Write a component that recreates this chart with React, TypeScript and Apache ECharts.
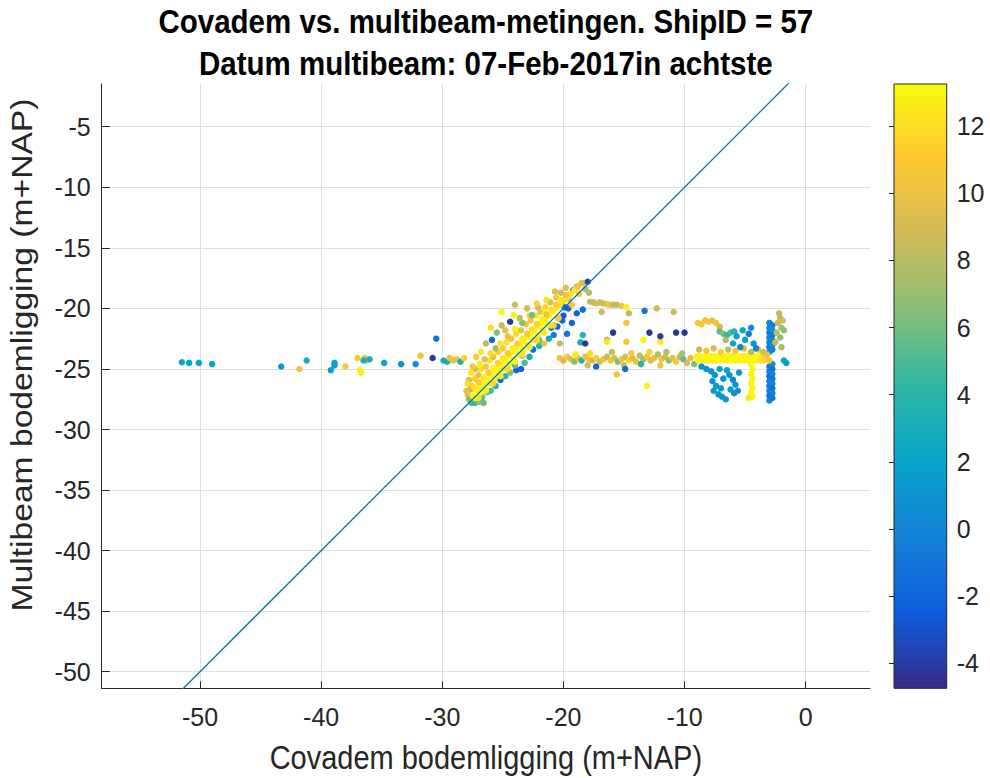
import React, { useEffect, useRef } from "react";
import * as echarts from "echarts";

// [covadem depth, multibeam depth, colour value]
type Pt = [number, number, number];

const titleLines = [
  "Covadem vs. multibeam-metingen. ShipID = 57",
  "Datum multibeam: 07-Feb-2017in achtste",
];
const xAxisTitle = "Covadem bodemligging (m+NAP)";
const yAxisTitle = "Multibeam bodemligging (m+NAP)";

const xTicks = [-50, -40, -30, -20, -10, 0];
const yTicks = [-50, -45, -40, -35, -30, -25, -20, -15, -10, -5];
const colorTicks = [-4, -2, 0, 2, 4, 6, 8, 10, 12];
const xRange = [-58.12, 5.31];
const yRange = [-51.37, -1.47];
const colorRange = [-4.74, 13.25];
const parula = ["#352a87", "#0f5cdd", "#1481d6", "#06a4ca", "#2eb7a4", "#87bf77", "#d1bb59", "#fec832", "#f9fb0e"];

// 1:1 reference line
const identityLine = [[-60, -60], [5, 5]];

const farLeft: Pt[] = [
  [-51.5, -24.45, 2.2], [-50.9, -24.5, 2.0], [-50.1, -24.5, 2.2], [-49.0, -24.6, 2.0],
  [-43.3, -24.8, 1.5], [-41.8, -25.0, 10.2], [-41.2, -24.3, 3.2],
  [-39.2, -25.1, 1.8], [-38.9, -24.7, 1.6], [-38.9, -24.5, 2.0],
  [-38.0, -24.8, 10.8], [-37.0, -24.1, 11.0], [-36.4, -24.1, 10.0], [-36.3, -24.3, 9.2],
  [-36.8, -25.1, 13.0], [-36.7, -25.3, 12.8], [-36.5, -24.3, 3.2], [-36.0, -24.2, 3.0],
  [-34.8, -24.5, 2.4], [-33.4, -24.6, 1.2], [-32.2, -24.6, 1.0], [-31.8, -23.9, 10.3],
  [-30.8, -24.1, -4.2], [-30.5, -22.5, -1.0], [-29.9, -24.3, 3.2], [-29.6, -24.4, 3.0],
  [-29.4, -24.1, 10.2], [-29.1, -24.3, 9.8], [-28.8, -24.2, 10.6], [-28.5, -24.4, 3.4],
  [-28.2, -24.1, 11.4],
];

const diagonalCore: Pt[] = [
  [-27.5, -27.2, 13], [-27.2, -26.8, 13], [-26.9, -26.5, 12.8], [-26.6, -26.2, 13],
  [-26.3, -25.9, 13], [-26.0, -25.5, 12.9], [-25.7, -25.2, 13], [-25.4, -24.9, 13],
  [-25.1, -24.6, 12.8], [-24.8, -24.3, 13], [-24.5, -23.9, 13], [-24.2, -23.6, 12.9],
  [-23.9, -23.3, 13], [-23.6, -23.0, 13], [-23.3, -22.7, 12.7], [-23.0, -22.4, 13],
  [-22.7, -22.1, 13], [-22.4, -21.8, 12.8], [-22.1, -21.5, 13], [-21.8, -21.2, 13],
  [-21.5, -20.9, 12.6], [-21.2, -20.6, 13], [-20.9, -20.3, 12.8], [-20.6, -20.0, 12.5],
  [-20.3, -19.7, 12.2], [-20.0, -19.4, 11.5], [-19.7, -19.1, 12.6], [-19.4, -18.8, 11.8],
  [-19.1, -18.5, 12.4], [-18.8, -18.2, 10.5], [-18.5, -17.9, 9.5],
  [-27.3, -27.4, 12.8], [-26.9, -27.0, 13], [-26.5, -26.6, 13], [-26.1, -26.2, 12.6],
  [-25.7, -25.8, 13], [-25.3, -25.4, 13], [-24.9, -25.0, 12.7], [-24.5, -24.6, 13],
  [-24.1, -24.2, 13], [-23.7, -23.8, 12.8], [-23.3, -23.4, 13], [-22.9, -23.0, 12.5],
  [-22.5, -22.6, 13], [-22.1, -22.2, 12.9], [-21.7, -21.8, 12.4], [-21.3, -21.4, 13],
  [-27.4, -26.5, 12.2], [-27.0, -26.1, 11.0], [-26.6, -25.7, 12.5], [-26.2, -25.3, 10.8],
  [-25.8, -24.9, 12.9], [-25.4, -24.5, 11.6], [-25.0, -24.1, 12.4], [-24.6, -23.7, 10.9],
  [-24.2, -23.3, 12.7], [-23.8, -22.9, 11.2], [-23.4, -22.5, 12.6], [-23.0, -22.1, 10.6],
  [-22.6, -21.7, 12.2], [-22.2, -21.3, 11.4], [-21.8, -20.9, 12.8], [-21.4, -20.5, 10.3],
  [-21.0, -20.1, 12.0], [-20.6, -19.7, 11.1], [-20.2, -19.3, 12.3], [-19.8, -18.9, 10.2],
  [-27.0, -27.4, 12.0], [-26.4, -26.8, 12.8], [-25.8, -26.2, 11.5], [-25.2, -25.6, 12.6],
  [-24.6, -25.0, 11.8], [-24.0, -24.4, 12.9], [-23.4, -23.8, 12.2], [-22.8, -23.2, 12.7],
  [-22.2, -22.6, 11.9], [-21.6, -22.0, 12.5], [-21.0, -21.4, 12.0], [-20.4, -20.8, 11.0],
];

const diagonalUpper: Pt[] = [
  [-27.6, -26.4, 10.5], [-27.3, -25.8, 11.5], [-27.0, -25.5, 10.2], [-26.8, -25.0, 11.8],
  [-26.4, -24.8, 10.6], [-26.1, -24.3, 12.2], [-25.8, -24.0, 10.0], [-25.4, -23.6, 11.2],
  [-25.0, -23.3, 10.8], [-24.7, -22.8, 12.0], [-24.3, -22.5, 10.4], [-23.9, -22.1, 11.6],
  [-23.5, -21.8, 9.8], [-23.1, -21.3, 11.0], [-22.7, -21.0, 10.5], [-22.3, -20.6, 12.3],
  [-21.9, -20.3, 10.1], [-21.5, -19.9, 11.4], [-21.1, -19.5, 9.0], [-20.6, -19.1, 10.7],
  [-20.2, -18.7, 8.6], [-19.8, -18.3, 9.5],
  [-27.3, -25.0, 8.6], [-26.9, -24.6, 12.6], [-26.5, -24.2, 9.4], [-26.0, -23.7, 11.9],
  [-25.6, -23.3, 7.2], [-25.2, -22.9, 12.3], [-24.6, -22.3, 9.9], [-24.0, -21.7, 12.8],
  [-23.4, -21.2, 6.4], [-22.8, -20.6, 11.3], [-22.1, -19.9, 8.7], [-21.4, -19.3, 12.1],
  [-20.7, -18.6, 9.6],
  [-25.1, -20.3, 13], [-24.1, -20.55, 12.8], [-24.4, -21.1, -4.0], [-25.1, -21.4, 8.5],
  [-25.9, -22.6, -1.5], [-25.5, -22.0, 6.5], [-23.6, -20.8, 8.2], [-22.6, -20.55, 5.8],
  [-21.5, -20.3, 12.9], [-26.8, -23.6, 12.5], [-26.4, -22.9, 8.0], [-27.2, -24.0, 11.0],
  [-27.5, -24.8, 10.4], [-27.6, -25.3, 12.6], [-27.8, -25.9, 9.2], [-27.7, -26.7, 8.0],
  [-27.9, -27.1, 10.0], [-26.0, -21.6, 12.0], [-24.8, -21.8, 10.0], [-23.0, -20.0, 9.0],
  [-22.2, -19.6, 11.5], [-24.0, -19.7, 8.8],
  [-27.9, -26.2, 11.8], [-28.0, -26.8, 9.8], [-27.8, -27.5, 6.5],
];

const diagonalLower: Pt[] = [
  [-27.1, -27.5, 5.5], [-26.7, -27.3, 6.0], [-26.3, -26.9, 4.5], [-26.0, -26.8, 5.2],
  [-25.6, -26.4, 3.5], [-25.2, -25.9, -1.5], [-24.8, -25.6, 4.0], [-24.4, -25.3, 6.5],
  [-23.9, -25.1, -1.8], [-23.5, -25.0, -2.0], [-23.2, -24.5, 5.0], [-22.8, -24.0, 3.0],
  [-22.5, -23.4, -1.2], [-22.0, -23.1, 3.8], [-21.6, -22.9, 10.2], [-21.2, -22.5, 2.5],
  [-20.8, -22.2, -0.5], [-20.3, -22.9, 8.3], [-19.7, -22.1, -1.0], [-20.5, -21.5, -2.2],
  [-20.1, -21.0, -1.8], [-19.3, -21.2, -1.5], [-18.9, -20.4, -2.0], [-18.4, -20.1, -1.6],
  [-18.6, -22.8, 3.2], [-18.2, -22.9, -4.1], [-20.0, -20.6, -2.5], [-19.6, -20.0, -1.9],
  [-19.9, -19.9, -2.3], [-20.4, -20.8, 0.2], [-21.0, -21.6, -1.0], [-22.0, -22.6, 6.0],
  [-23.4, -23.9, 7.0], [-24.0, -24.7, 5.5], [-26.8, -27.6, 4.8], [-20.8, -21.4, 10.5],
  [-27.6, -27.8, 5.0], [-27.3, -27.8, 4.2], [-27.0, -27.7, 6.8], [-26.6, -27.8, 5.6],
  [-19.6, -19.2, 8.4], [-19.2, -18.5, -1.5], [-18.9, -18.2, 8.6], [-18.4, -17.9, 10.4],
  [-18.0, -17.8, -3.8], [-18.7, -18.8, 10.8], [-19.3, -19.7, 10.6], [-18.2, -18.4, 7.5],
  [-17.9, -18.7, 8.0],
];

const upperBranch: Pt[] = [
  [-17.8, -19.45, 8.5], [-17.5, -19.5, 8.0], [-17.3, -19.6, 8.8], [-17.0, -19.5, 9.0],
  [-16.7, -19.6, 8.3], [-16.4, -19.65, 9.5], [-16.2, -19.7, 10.5], [-15.9, -19.7, 8.6],
  [-15.6, -19.7, 8.2], [-15.2, -19.8, 10.0], [-14.8, -19.9, 12.8], [-16.85, -20.3, 8.5],
  [-14.6, -20.4, 8.3], [-13.3, -20.2, -1.2], [-12.3, -20.0, 8.6], [-10.9, -20.3, 8.4],
  [-14.8, -21.2, 10.4], [-16.4, -22.6, 8.0], [-18.4, -22.2, 3.5], [-16.4, -22.75, 12.5],
  [-14.8, -22.75, 10.5], [-13.4, -22.6, 12.9], [-12.0, -22.75, 12.6],
  [-15.9, -22.0, -4.2], [-12.9, -22.0, -4.3], [-12.0, -22.3, -4.0], [-10.7, -22.0, -4.2],
  [-10.0, -22.0, -4.1],
];

const middleRow: Pt[] = [
  [-20.3, -24.1, 10.2], [-20.0, -24.3, 8.8], [-19.7, -24.0, 11.0], [-19.4, -24.2, 9.5],
  [-19.1, -24.4, 6.5], [-18.8, -24.1, 10.0], [-18.5, -24.3, 3.5], [-18.2, -24.0, 9.8],
  [-17.9, -24.2, 10.5], [-17.6, -24.3, 8.5], [-17.3, -24.1, 11.2], [-17.0, -24.4, 9.0],
  [-16.7, -24.2, 10.3], [-16.4, -24.0, 8.0], [-16.1, -24.3, 10.8], [-15.8, -24.1, 9.4],
  [-15.5, -24.4, 6.0], [-15.2, -24.2, 10.2], [-14.9, -24.0, 8.6], [-14.6, -24.3, 11.5],
  [-14.3, -24.1, 9.2], [-14.0, -24.4, 10.0], [-13.7, -23.9, 8.3], [-13.4, -24.2, 7.2],
  [-13.1, -24.0, 10.6], [-12.8, -24.3, 8.8], [-12.5, -24.1, 9.9], [-12.2, -23.8, 7.8],
  [-11.9, -24.2, 10.4], [-11.6, -24.0, 8.7], [-11.3, -24.3, 6.8], [-11.0, -24.1, 9.6],
  [-10.7, -24.4, 10.9], [-10.4, -24.0, 8.2], [-10.1, -24.2, 5.5], [-9.8, -24.5, 8.9],
  [-9.5, -24.1, 9.7], [-9.2, -24.6, 6.2],
  [-19.0, -23.8, 12.5], [-17.8, -23.7, 11.8], [-16.0, -23.6, 8.5], [-14.4, -23.7, 10.8],
  [-12.9, -23.6, 11.5], [-11.5, -23.6, 8.0], [-10.2, -23.7, 7.5], [-18.0, -24.7, 9.0],
  [-15.0, -24.7, 8.4], [-12.0, -24.7, 10.1], [-13.6, -24.6, 4.0],
  [-17.3, -24.8, -1.8], [-14.9, -25.0, -1.5], [-13.1, -26.4, 13], [-15.6, -25.45, 10.5],
];

const rightCluster: Pt[] = [
  // dense band near -24
  [-9.0, -23.95, 13], [-8.7, -23.95, 12.6], [-8.4, -23.95, 13], [-8.1, -23.95, 13],
  [-7.8, -23.95, 12.8], [-7.5, -23.95, 13], [-7.2, -23.95, 13], [-6.9, -23.95, 12.5],
  [-6.6, -23.95, 13], [-6.3, -23.95, 13], [-6.0, -23.95, 12.9], [-5.7, -23.95, 13],
  [-5.4, -23.95, 13], [-5.1, -23.95, 12.4], [-4.8, -23.95, 13], [-4.5, -23.95, 13],
  [-4.2, -23.95, 12.8], [-3.9, -23.95, 13], [-3.6, -23.95, 12.2], [-3.3, -23.95, 11.5],
  [-8.85, -24.3, 13], [-8.55, -24.3, 13], [-8.25, -24.3, 12.7], [-7.95, -24.3, 13],
  [-7.65, -24.3, 13], [-7.35, -24.3, 12.9], [-7.05, -24.3, 13], [-6.75, -24.3, 13],
  [-6.45, -24.3, 12.6], [-6.15, -24.3, 13], [-5.85, -24.3, 13], [-5.55, -24.3, 12.8],
  [-5.25, -24.3, 13], [-4.95, -24.3, 13], [-4.65, -24.3, 13], [-4.35, -24.3, 12.9],
  [-4.05, -24.3, 13], [-3.75, -24.3, 12.3], [-3.45, -24.3, 11.8],
  [-8.8, -23.4, 8.5], [-8.2, -23.5, 10.2], [-7.6, -23.3, 9.0], [-7.0, -23.6, 11.0],
  [-6.4, -23.4, 8.2], [-5.8, -23.5, 10.5], [-5.1, -23.3, 9.4], [-4.5, -23.6, 7.8],
  [-3.9, -23.4, 10.0], [-3.5, -23.6, 8.8],
  // upper spread
  [-8.3, -21.0, 10.2], [-8.0, -21.1, 10.8], [-7.7, -21.0, 9.8], [-7.4, -21.2, 10.5],
  [-8.6, -21.3, 11.0], [-7.1, -21.5, 9.0], [-8.9, -21.2, 11.0],
  [-7.1, -21.9, 5.5], [-6.8, -22.1, 6.2], [-6.5, -22.2, 4.5], [-6.2, -22.0, 5.0],
  [-5.9, -21.9, 3.5], [-6.6, -22.6, 7.5],
  [-5.7, -22.3, 1.5], [-4.7, -22.1, -0.5], [-4.3, -22.9, 1.0], [-5.4, -23.2, 0.0],
  [-5.0, -22.6, 1.8], [-4.5, -21.6, 0.5], [-5.2, -21.8, 2.2], [-4.1, -23.3, -0.2],
  [-6.0, -22.9, 2.5],
  // column near -3
  [-3.0, -21.2, 0.5], [-3.0, -21.6, 0.0], [-3.0, -22.0, -0.5], [-3.0, -22.4, 0.8],
  [-3.0, -22.8, 0.2], [-3.0, -23.2, -1.0], [-3.0, -23.6, 0.4], [-3.0, -24.8, -0.8],
  [-3.0, -25.2, 0.0], [-3.0, -25.6, -1.5], [-3.0, -26.0, 0.3], [-3.0, -26.4, -0.6],
  [-3.0, -26.8, 0.1], [-3.0, -27.2, -1.2], [-3.0, -27.6, 0.0],
  [-2.75, -21.4, -0.3], [-2.75, -21.8, 0.6], [-2.75, -22.2, -1.0], [-2.75, -22.6, 0.2],
  [-2.75, -23.0, 0.9], [-2.75, -23.4, -0.4], [-2.75, -24.6, 0.5], [-2.75, -25.0, -1.2],
  [-2.75, -25.4, 0.0], [-2.75, -25.8, -0.7], [-2.75, -26.2, 0.4], [-2.75, -26.6, -1.4],
  [-2.75, -27.0, 0.2], [-2.75, -27.4, -0.9],
  // tan column near -2
  [-2.2, -20.4, 8.2], [-2.1, -20.8, 7.8], [-2.3, -21.2, 8.5], [-2.0, -21.6, 7.2],
  [-2.4, -22.0, 8.0], [-2.1, -22.4, 6.8], [-2.5, -22.8, 8.4], [-2.0, -23.2, 7.5],
  [-1.9, -21.0, 8.8], [-1.8, -21.8, 6.5],
  // vertical streak near -4.5
  [-4.5, -24.6, 13], [-4.4, -25.0, 13], [-4.5, -25.4, 12.8], [-4.4, -25.8, 13],
  [-4.5, -26.2, 13], [-4.4, -26.6, 12.9], [-4.5, -27.0, 13], [-4.4, -27.3, 13],
  [-4.7, -27.4, 12.5],
  // lower spread
  [-7.8, -25.2, 1.2], [-7.5, -25.5, 0.8], [-7.7, -26.0, 1.0], [-7.4, -26.4, 1.5],
  [-7.6, -26.8, 1.1], [-7.2, -27.1, 0.9], [-6.9, -27.3, 1.3], [-6.6, -27.5, 1.0],
  [-7.0, -26.6, 1.4], [-6.8, -25.8, 0.6], [-6.3, -25.5, 1.2], [-6.0, -25.9, 0.4],
  [-5.8, -26.3, 1.0], [-5.6, -26.8, 0.7], [-6.2, -26.7, 1.6], [-5.5, -25.3, 0.9],
  [-6.5, -25.1, 1.8], [-7.1, -25.0, 2.2], [-5.9, -27.0, 0.5],
  [-8.6, -24.8, 1.0], [-8.2, -25.0, 0.5],
  [-1.6, -24.5, 1.5], [-1.8, -24.3, 2.0], [-3.0, -24.3, 10.5], [-3.2, -23.8, 10.0],
];

const allPoints: Pt[] = [
  ...farLeft,
  ...diagonalLower,
  ...diagonalUpper,
  ...diagonalCore,
  ...upperBranch,
  ...middleRow,
  ...rightCluster,
];

// layout (pixels)
const plotBox = { left: 101.7, top: 84, width: 768.3, height: 604.3 };
const barBox = { left: 894, top: 84, width: 52.7, height: 604.3 };

const FONT = "'Liberation Sans', Arial, Helvetica, sans-serif";
const INK = "#262626";

export default function App() {
  const ref = useRef<HTMLDivElement>(null);

  useEffect(() => {
    if (!ref.current) return;
    const chart = echarts.init(ref.current, undefined, { renderer: "svg" });

    const gradientStops = parula
      .map((c, i) => ({ offset: 1 - i / (parula.length - 1), color: c }))
      .reverse();

    const centerX = plotBox.left + plotBox.width / 2;

    chart.setOption({
      animation: false,
      backgroundColor: "#ffffff",
      textStyle: { fontFamily: FONT },
      grid: [
        { left: plotBox.left, top: plotBox.top, width: plotBox.width, height: plotBox.height },
        { left: barBox.left, top: barBox.top, width: barBox.width, height: barBox.height },
      ],
      xAxis: [
        {
          type: "value",
          gridIndex: 0,
          min: xRange[0],
          max: xRange[1],
          axisLine: { show: true, onZero: false, lineStyle: { color: INK, width: 1 } },
          axisTick: { show: true, inside: true, length: 7, customValues: xTicks, lineStyle: { color: INK } },
          axisLabel: { customValues: xTicks, fontSize: 25, color: INK, margin: 16, fontFamily: FONT },
          splitLine: { show: true, lineStyle: { color: "#dfdfdf", width: 1 } },
        },
        { type: "value", gridIndex: 1, min: 0, max: 1, show: false },
      ],
      yAxis: [
        {
          type: "value",
          gridIndex: 0,
          min: yRange[0],
          max: yRange[1],
          axisLine: { show: true, onZero: false, lineStyle: { color: INK, width: 1 } },
          axisTick: { show: true, inside: true, length: 8, customValues: yTicks, lineStyle: { color: INK } },
          axisLabel: { customValues: yTicks, fontSize: 25, color: INK, margin: 11, fontFamily: FONT },
          splitLine: { show: true, lineStyle: { color: "#dfdfdf", width: 1 } },
        },
        {
          type: "value",
          gridIndex: 1,
          position: "right",
          min: colorRange[0],
          max: colorRange[1],
          axisLine: { show: false },
          axisTick: { show: true, inside: true, length: 5, customValues: colorTicks, lineStyle: { color: INK } },
          axisLabel: { customValues: colorTicks, fontSize: 25, color: INK, margin: 10, fontFamily: FONT },
          splitLine: { show: false },
        },
      ],
      visualMap: {
        type: "continuous",
        show: false,
        seriesIndex: 0,
        dimension: 2,
        min: colorRange[0],
        max: colorRange[1],
        inRange: { color: parula },
      },
      series: [
        {
          type: "scatter",
          xAxisIndex: 0,
          yAxisIndex: 0,
          symbol: "circle",
          symbolSize: 6.5,
          data: allPoints,
          itemStyle: { opacity: 1 },
        },
        {
          type: "line",
          xAxisIndex: 0,
          yAxisIndex: 0,
          data: identityLine,
          showSymbol: false,
          clip: true,
          lineStyle: { color: "#0072bd", width: 1.3 },
          z: 5,
        },
      ],
      graphic: [
        {
          type: "rect",
          z: -10,
          shape: { x: barBox.left, y: barBox.top, width: barBox.width, height: barBox.height },
          style: { fill: new echarts.graphic.LinearGradient(0, 0, 0, 1, gradientStops) },
        },
        {
          type: "rect",
          z: 10,
          shape: { x: barBox.left, y: barBox.top, width: barBox.width, height: barBox.height },
          style: { fill: "none", stroke: INK, lineWidth: 1 },
        },
        {
          type: "text",
          x: centerX,
          y: 22,
          scaleY: 1.1,
          style: {
            text: titleLines[0],
            font: `bold 29.5px ${FONT}`,
            fill: "#000",
            align: "center",
            verticalAlign: "middle",
          },
        },
        {
          type: "text",
          x: centerX,
          y: 64,
          scaleY: 1.1,
          style: {
            text: titleLines[1],
            font: `bold 29.5px ${FONT}`,
            fill: "#000",
            align: "center",
            verticalAlign: "middle",
          },
        },
        {
          type: "text",
          x: centerX,
          y: 758,
          scaleY: 1.12,
          style: {
            text: xAxisTitle,
            font: `29px ${FONT}`,
            fill: INK,
            align: "center",
            verticalAlign: "middle",
          },
        },
        {
          type: "text",
          x: 22,
          y: 355,
          rotation: Math.PI / 2,
          scaleX: 1.16,
          style: {
            text: yAxisTitle,
            font: `29px ${FONT}`,
            fill: INK,
            align: "center",
            verticalAlign: "middle",
          },
        },
      ],
    });

    return () => chart.dispose();
  }, []);

  return (
    <div
      ref={ref}
      style={{ position: "fixed", left: 0, top: 0, width: 990, height: 778, background: "#fff" }}
    />
  );
}
